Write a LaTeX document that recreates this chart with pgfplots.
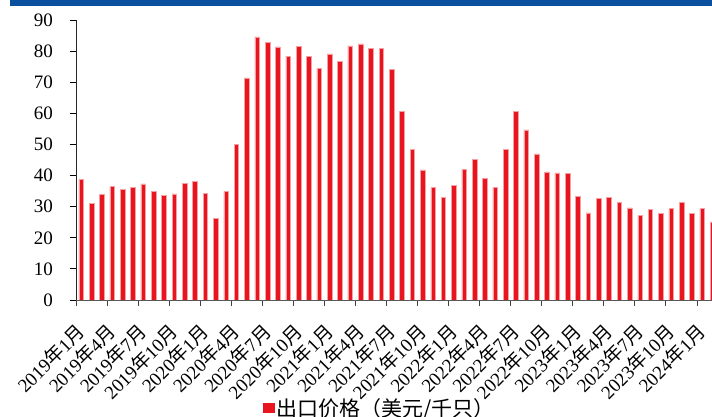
\documentclass[border=0pt]{standalone}
\usepackage{pgfplots}
\pgfplotsset{compat=1.18}
\usepackage{pgfplotstable}
\usepackage{fontspec}
\setmainfont{Liberation Serif}
\newfontfamily\cjk{Noto Sans CJK SC}
\definecolor{barred}{HTML}{E8141E}
\definecolor{barpink}{HTML}{F4A0A5}
\definecolor{headblue}{HTML}{0B4F9F}
\newcommand{\ym}[2]{#1{\cjk 年}#2{\cjk 月}}
\pgfplotstableread{
x y
0 38.8
1 31.1
2 34.0
3 36.5
4 35.6
5 36.1
6 37.3
7 35.0
8 33.6
9 34.1
10 37.6
11 38.2
12 34.2
13 26.3
14 34.9
15 50.1
16 71.4
17 84.6
18 82.8
19 81.4
20 78.4
21 81.5
22 78.3
23 74.5
24 79.1
25 76.8
26 81.7
27 82.3
28 81.0
29 80.8
30 74.1
31 60.7
32 48.3
33 41.8
34 36.1
35 33.1
36 36.9
37 42.1
38 45.2
39 39.0
40 36.3
41 48.3
42 60.7
43 54.7
44 47.0
45 41.2
46 40.9
47 40.6
48 33.3
49 28.0
50 32.6
51 32.9
52 31.3
53 29.6
54 27.1
55 29.1
56 27.9
57 29.4
58 31.4
59 27.9
60 29.4
61 25.1
}\pricedata
\begin{document}
\begin{tikzpicture}
\path[use as bounding box] (0,0) rectangle (712bp,417bp);
\fill[headblue] (10bp,410.5bp) rectangle (712bp,417bp);
\begin{axis}[
  at={(76bp,117bp)}, anchor=south west,
  scale only axis,
  width=636bp, height=280bp,
  xmin=-0.5, xmax=60.95,
  ymin=0, ymax=90,
  ytick={0,10,...,90},
  axis x line=bottom, axis y line=left,
  axis line style={-, line width=0.9bp},
  x axis line style={draw=black!65},
  y axis line style={draw=black!85},
  tick align=outside,
  major tick length=6bp,
  minor tick length=6bp,
  xtick={0,3,...,60},
  xticklabels={\ym{2019}{1},\ym{2019}{4},\ym{2019}{7},\ym{2019}{10},
    \ym{2020}{1},\ym{2020}{4},\ym{2020}{7},\ym{2020}{10},
    \ym{2021}{1},\ym{2021}{4},\ym{2021}{7},\ym{2021}{10},
    \ym{2022}{1},\ym{2022}{4},\ym{2022}{7},\ym{2022}{10},
    \ym{2023}{1},\ym{2023}{4},\ym{2023}{7},\ym{2023}{10},
    \ym{2024}{1}},
  minor xtick={-0.5,2.5,...,59.5},
  major x tick style={draw=none},
  minor x tick style={draw=black!75, line width=0.9bp},
  y tick style={draw=black, line width=0.9bp},
  /pgf/number format/assume math mode=true,
  tick label style={font=\fontsize{19bp}{21bp}\selectfont},
  yticklabel style={inner sep=0pt, xshift=-17bp},
  xticklabel style={rotate=45, anchor=east, inner sep=0pt},
  xticklabel shift=22bp,
  clip=true,
  legend style={at={(axis description cs:0.294,-0.386)}, anchor=west,
    draw=none, fill=none, inner sep=0pt,
    nodes={inner sep=1.5bp},
    font=\cjk\fontsize{21bp}{23bp}\selectfont},
  legend image code/.code={\fill[barred] (0bp,-4.5bp) rectangle (11bp,4.5bp);},
]
\addplot[ybar, bar width=4.6bp, fill=barred, draw=barpink, line width=0.5bp] table[x=x,y=y] {\pricedata};
\addlegendentry{出口价格（美元/千只）}
\end{axis}
\end{tikzpicture}
\end{document}
